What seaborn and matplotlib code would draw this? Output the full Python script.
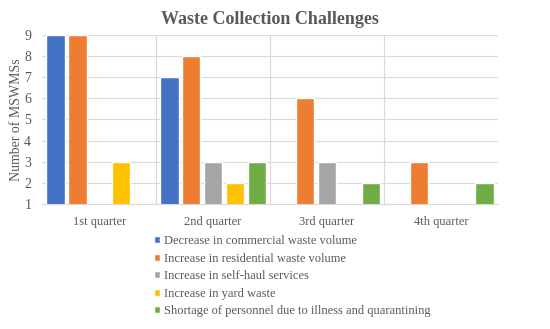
import pandas as pd
import matplotlib.pyplot as plt
import seaborn as sns

# === Data ===
quarters = ["1st quarter", "2nd quarter", "3rd quarter", "4th quarter"]
challenges = [
    "Decrease in commercial waste volume",
    "Increase in residential waste volume",
    "Increase in self-haul services",
    "Increase in yard waste",
    "Shortage of personnel due to illness and quarantining",
]
commercial = [9, 7, 0, 0]
residential = [9, 8, 6, 3]
self_haul = [0, 3, 3, 0]
yard = [3, 2, 0, 0]
personnel = [0, 3, 2, 2]

colors = ["#4472C4", "#ED7D31", "#A5A5A5", "#FFC000", "#70AD47"]

rows = []
for name, vals in zip(challenges, [commercial, residential, self_haul, yard, personnel]):
    for q, v in zip(quarters, vals):
        rows.append({"Quarter": q, "Challenge": name, "Count": v})
df = pd.DataFrame(rows)

# === Plot ===
sns.set_style("white")
plt.rcParams["font.family"] = ["Liberation Serif", "DejaVu Serif"]
text_col = "#595959"

fig = plt.figure(figsize=(5.5, 3.29), dpi=100)
ax = fig.add_axes([0.077, 0.38, 0.828, 0.514])

sns.barplot(data=df, x="Quarter", y="Count", hue="Challenge", palette=colors,
            width=0.96, gap=0.16, ax=ax, legend=True, saturation=1)

ax.set_ylim(1, 9)
ax.set_xlim(-0.5, 3.5)
ax.set_yticks(range(1, 10))
ax.yaxis.grid(True, color="#D9D9D9", linewidth=0.8)
ax.set_axisbelow(True)
for x in [0.5, 1.5, 2.5]:
    ax.axvline(x, color="#D9D9D9", linewidth=0.8, zorder=0)
for s in ["top", "right", "left"]:
    ax.spines[s].set_visible(False)
ax.spines["bottom"].set_color("#D9D9D9")

ax.tick_params(axis="both", length=0, colors=text_col)
ax.tick_params(axis="x", labelsize=9, pad=9)
ax.tick_params(axis="y", labelsize=10, pad=8)
ax.set_xlabel("")
ax.set_ylabel("Number of MSWMSs", color=text_col, fontsize=10, labelpad=1)
ax.set_title("Waste Collection Challenges", color=text_col, fontsize=13,
             fontweight="bold", pad=8)

ax.legend(loc="upper left", bbox_to_anchor=(0.245, -0.185), ncol=1, frameon=False,
          fontsize=9, labelcolor=text_col, handlelength=0.5, handleheight=0.5,
          handletextpad=0.3, labelspacing=0.44, borderaxespad=0, borderpad=0)

plt.savefig("out.png", dpi=100)
